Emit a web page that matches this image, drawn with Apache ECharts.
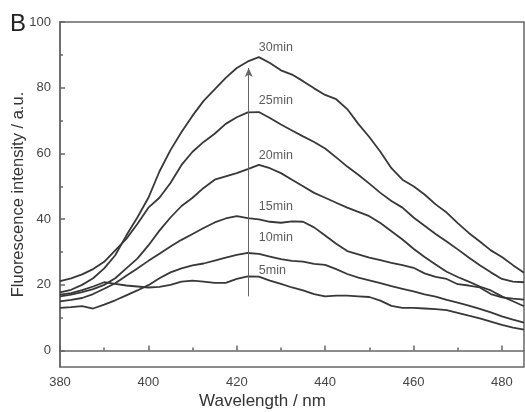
<!DOCTYPE html>
<html>
<head>
<meta charset="utf-8">
<script src="https://cdn.jsdelivr.net/npm/echarts@6/dist/echarts.min.js"></script>
<style>html,body{margin:0;padding:0;background:#fff}#c{width:525px;height:412px}</style>
</head>
<body>
<div id="c"></div>
<script>
var wavelengths = [380,382.5,385,387.5,390,392.5,395,397.5,400,402.5,405,407.5,410,412.5,415,417.5,420,422.5,425,427.5,430,432.5,435,437.5,440,442.5,445,447.5,450,452.5,455,457.5,460,462.5,465,467.5,470,472.5,475,477.5,480,482.5,485];
var s5min  = [17,17.5,18.4,19.5,20.8,20.3,19.8,19.5,19.2,19.4,20,21,21.3,21,20.6,20.6,21.8,22.6,22.5,21.3,20.3,19.2,18.3,17.2,16.5,16.7,16.7,16.5,16.3,15.2,13.6,13,13,12.8,12.6,12.3,11.5,10.6,9.8,8.8,7.8,7,6.4];
var s10min = [13,13.2,13.5,12.8,14,15.3,16.8,18.3,19.9,22,23.8,25,25.9,26.5,27.4,28.3,29.1,29.7,29.4,28.6,27.8,27.3,27.1,26.4,26.1,24.8,23.3,22.2,21.4,20.5,19.6,18.8,18,17.1,16.4,15.4,14.6,13.7,12.7,11.6,10.4,9.4,8.5];
var s15min = [15,15.4,16,17.2,18.8,20.5,22.8,25,27.3,29.5,31.7,33.7,35.5,37.3,39,40.2,40.9,40.3,39.9,39.2,38.9,39.3,39.2,37.5,35,32.5,30.3,29.3,28.3,27.5,26.7,26,25.2,23.5,22.4,21.8,20.2,19.8,19.2,17.2,16.2,15.8,15.5];
var s20min = [16.5,17,17.8,18.7,20,22,25,28,32,36.5,40.5,44,46.5,49.5,52,53,54,55.2,56.5,55.5,54,52,50,48,46.5,45,43.5,42.2,40.9,38.8,36.3,33.8,31,28.5,26.2,24,22.4,21,19.5,18.3,16.5,15,13.5];
var s25min = [21.1,22,23.2,24.8,27,30.5,34,38.5,43.5,46.5,51,56.5,60.5,63.5,66,69,71,72.5,72.6,70.8,68.8,67,65.2,63.5,61.5,58.8,56,53.5,50.8,48,45.5,43.5,40.5,38,35.5,33.2,30.8,28.3,26,23.8,21.8,21,20.8];
var s30min = [17.7,18.5,20,22,25,29,35,40.5,46.5,54.5,61,66.5,71.5,76,79.5,83,86,88,89.3,87.5,85.3,84,82,79.8,77.8,76.5,73.5,69,65,60.5,55.5,52,50,47.5,44.5,42,38.8,35.8,33.2,30.5,28.5,26,23.7];
var seriesNames = ['5min','10min','15min','20min','25min','30min'];
var labelWavelength = 425;
var labelValues = [24.5, 34.4, 43.8, 59.4, 76.1, 92.2];
var arrowWavelength = 422.7;
var arrowFrom = 16.5, arrowTo = 86;
var xTicks = [380,400,420,440,460,480];
var xMinor = [390,410,430,450,470];
var yTicks = [0,20,40,60,80,100];
var yMinor = [10,30,50,70,90];

var allSeries = [s5min,s10min,s15min,s20min,s25min,s30min];
function pairs(arr){ return wavelengths.map(function(w,i){ return [w, arr[i]]; }); }

var chart = echarts.init(document.getElementById('c'), null, {renderer:'canvas'});
var lineColor = '#383838';
var axisColor = '#666';
var series = allSeries.map(function(arr, k){
  return {type:'line', name:seriesNames[k], data:pairs(arr), showSymbol:false, symbol:'none',
    lineStyle:{color:lineColor, width:1.8}, silent:true, z:3};
});
series.push({
  type:'scatter', symbolSize:0, silent:true,
  data: labelValues.map(function(v){ return [labelWavelength, v]; }),
  label:{show:true, position:'right', distance:0, color:'#333', fontSize:12.5, fontFamily:'Liberation Sans',
    formatter:function(p){ return seriesNames[p.dataIndex]; }},
  markLine:{silent:true, symbol:['none','arrow'], symbolSize:[6,9], label:{show:false},
    lineStyle:{color:'#666', width:1, type:'solid'},
    data:[[{coord:[arrowWavelength, arrowFrom]},{coord:[arrowWavelength, arrowTo]}]]}
});

chart.setOption({
  animation:false,
  backgroundColor:'#fff',
  grid:{left:60, right:1, top:22, bottom:45, containLabel:false, outerBoundsMode:'none',
    show:true, borderColor:axisColor, borderWidth:1.5, backgroundColor:'transparent'},
  graphic:[
    {type:'text', left:10, top:12, style:{text:'B', fontSize:24, fontFamily:'Liberation Sans', fill:'#222'}},
    {type:'text', left:'center', top:393, style:{text:'Wavelength / nm', fontSize:17, fontFamily:'Liberation Sans', fill:'#333', x:-27}}
  ],
  xAxis:[
    {type:'value', min:380, max:485, interval:20,
      axisLine:{show:true, lineStyle:{color:axisColor, width:1.5}},
      axisTick:{show:true, inside:true, length:5, customValues:xTicks, lineStyle:{color:axisColor, width:1.5}},
      axisLabel:{customValues:xTicks, color:'#444', fontSize:13, fontFamily:'Liberation Sans', margin:9},
      splitLine:{show:false}},
    {type:'value', min:380, max:485, position:'bottom',
      axisLine:{show:false},
      axisTick:{show:true, inside:true, length:3, customValues:xMinor, lineStyle:{color:axisColor, width:1.5}},
      axisLabel:{show:false}, splitLine:{show:false}}
  ],
  yAxis:[
    {type:'value', min:-5, max:100,
      name:'Fluorescence intensity / a.u.', nameLocation:'middle', nameGap:33, nameMoveOverlap:false,
      nameTextStyle:{fontSize:16.5, fontFamily:'Liberation Sans', color:'#333'},
      axisLine:{show:true, lineStyle:{color:axisColor, width:1.5}},
      axisTick:{show:true, inside:true, length:5, customValues:yTicks, lineStyle:{color:axisColor, width:1.5}},
      axisLabel:{customValues:yTicks, color:'#444', fontSize:13, fontFamily:'Liberation Sans', margin:9},
      splitLine:{show:false}},
    {type:'value', min:-5, max:100, position:'left',
      axisLine:{show:false},
      axisTick:{show:true, inside:true, length:3, customValues:yMinor, lineStyle:{color:axisColor, width:1.5}},
      axisLabel:{show:false}, splitLine:{show:false}}
  ],
  series:series
});
</script>
</body>
</html>
